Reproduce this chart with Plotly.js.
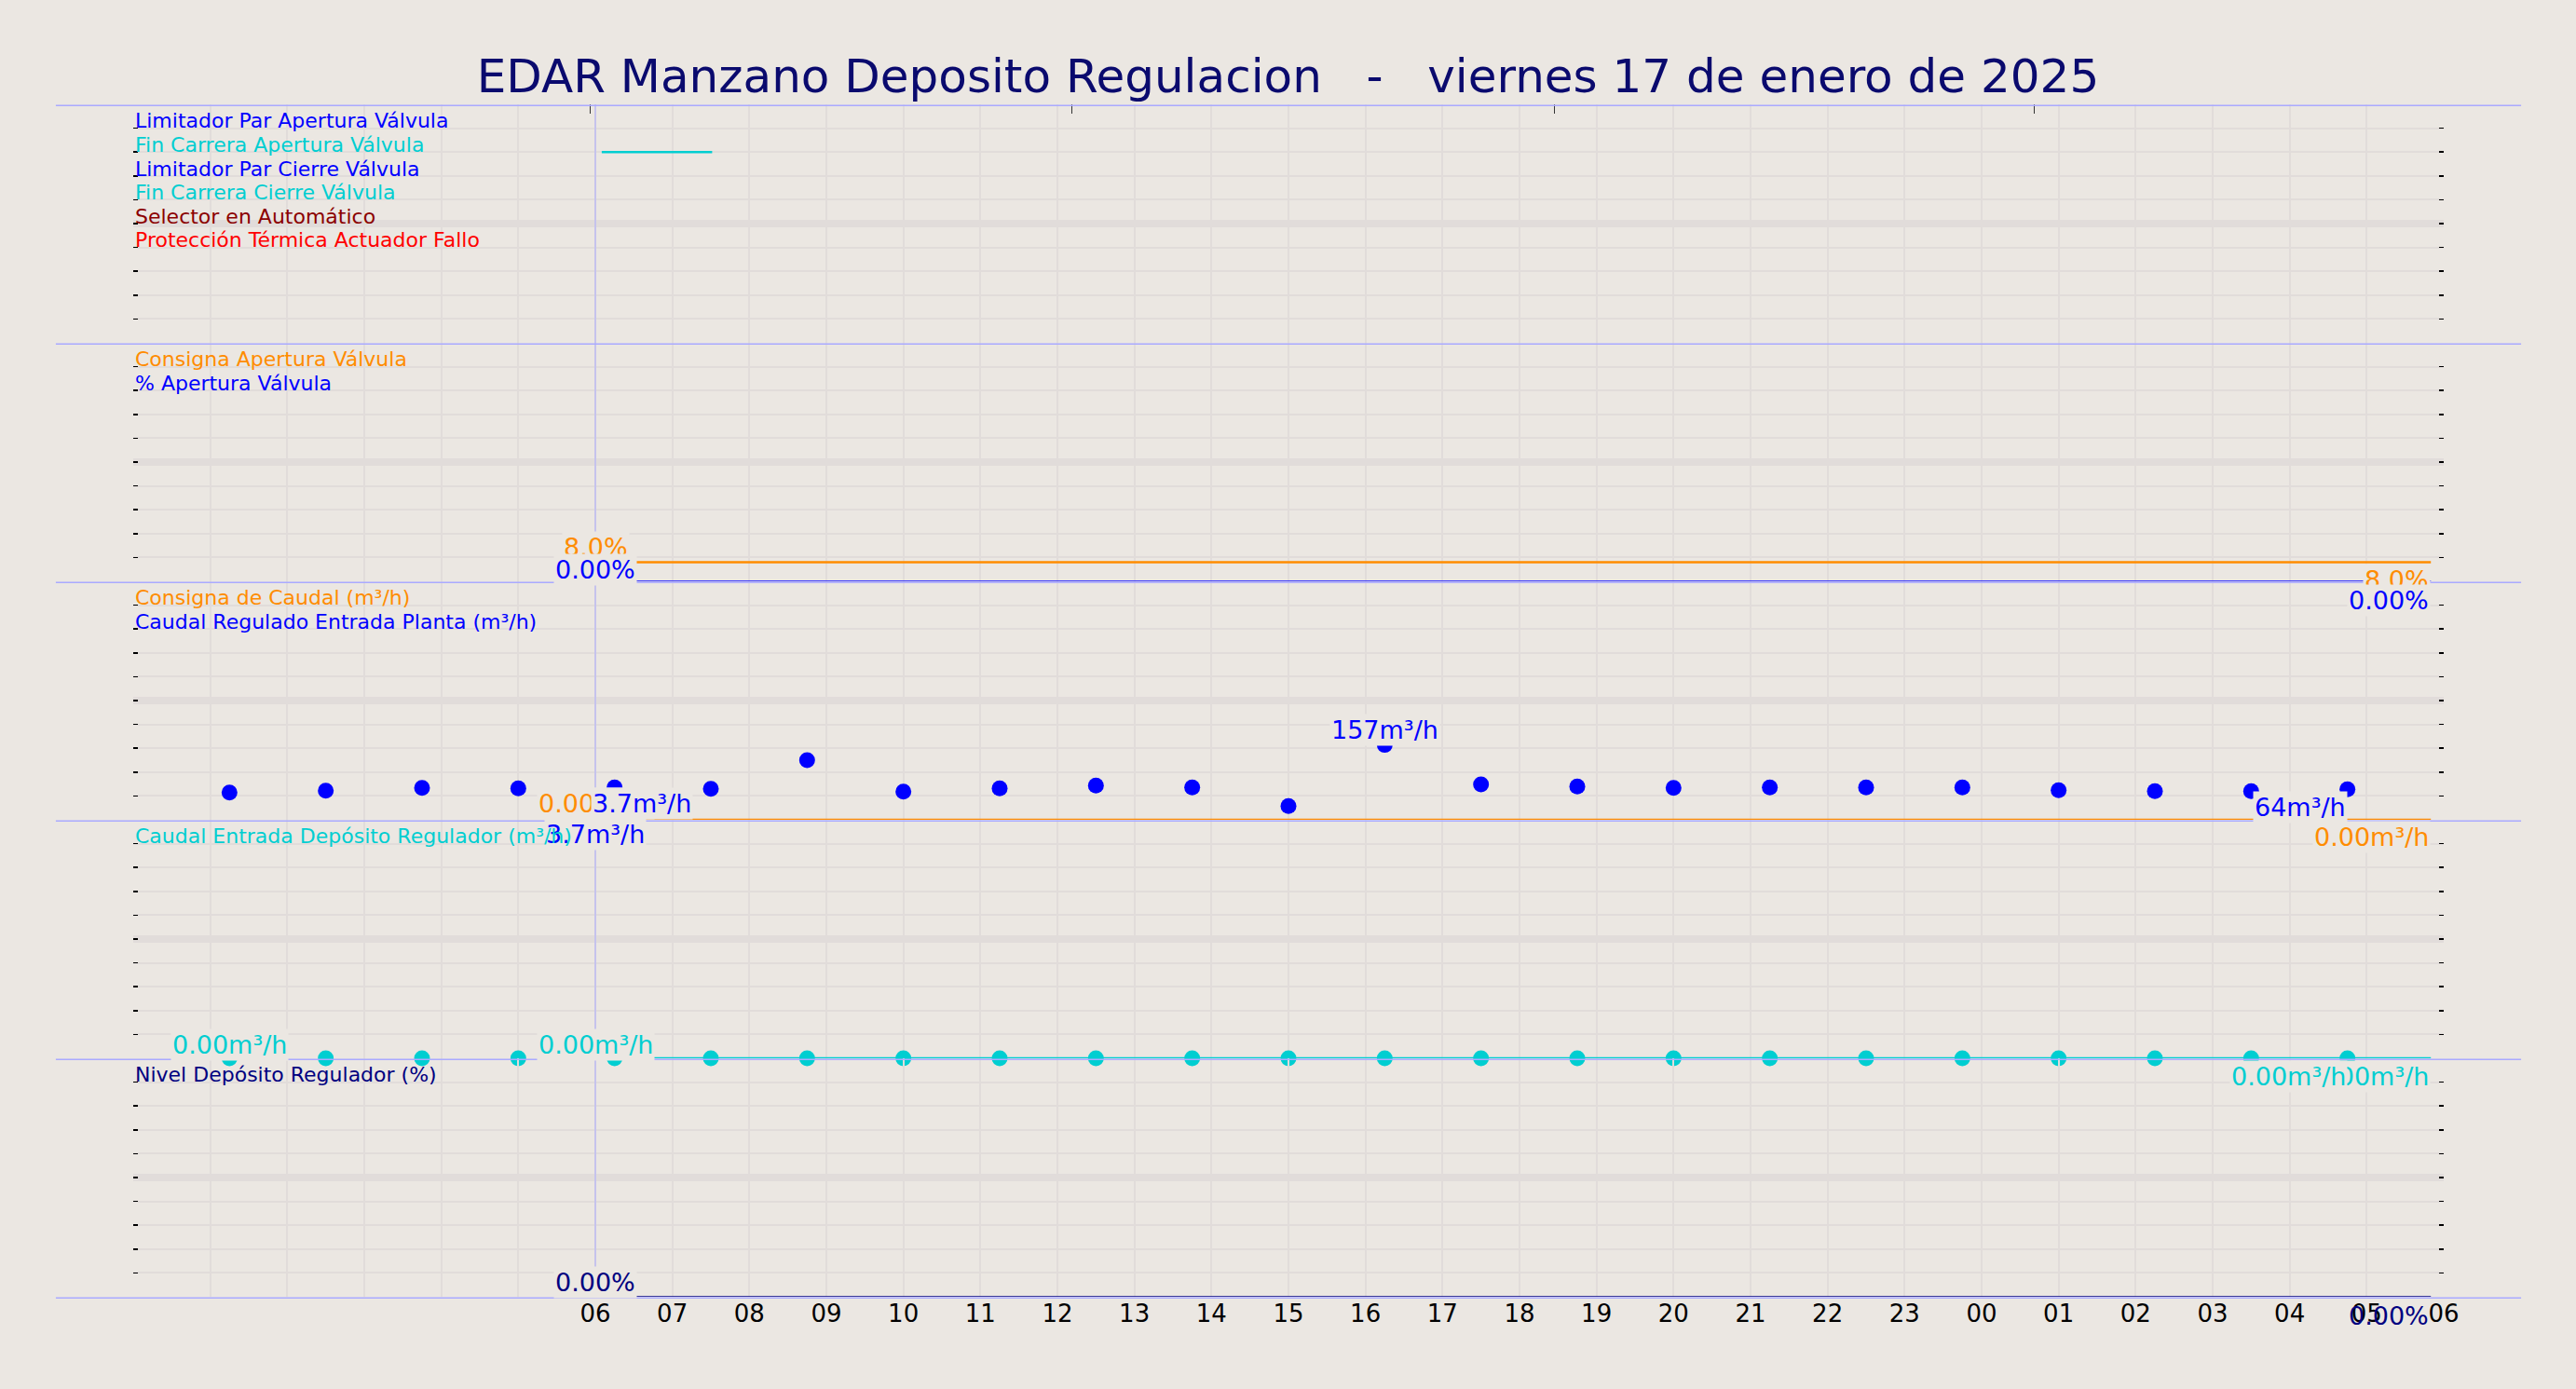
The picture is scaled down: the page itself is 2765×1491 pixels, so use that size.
<!DOCTYPE html>
<html>
<head>
<meta charset="utf-8">
<script src="https://cdn.plot.ly/plotly-3.0.1.min.js"></script>
<style>
    html, body { margin: 0; padding: 0; background: #ebe7e2; }
</style>
</head>
<body>
<div id="chart"></div>
<script>
const BG = "#ebe7e2";
const GRID = "#e1dcda";
const BORDE = "#aaaaff";
const FONT = "DejaVu Sans";

// banda 1: señales digitales, intervalos en ON
const senales = ["Limitador Par Apertura Válvula", "Fin Carrera Apertura Válvula",
    "Limitador Par Cierre Válvula", "Fin Carrera Cierre Válvula",
    "Selector en Automático", "Protección Térmica Actuador Fallo"];
const senalesColor = ["#0000ff", "#00ced1", "#0000ff", "#00ced1", "#8b0000", "#ff0000"];
const senalesOn = [[], [["2025-01-17 06:05", "2025-01-17 07:31"]], [], [], [], []];

// series continuas: inicio y fin del registro
const tiempoSerie = ["2025-01-17 06:00", "2025-01-18 05:50"];
const consignaApertura = [8.0, 8.0];
const aperturaValvula = [0, 0];
const consignaCaudal = [0, 0];
const caudalRegInicial = 3.7;
const caudalDeposito = [0, 0];
const nivelDeposito = [0, 0];

// muestras con marcador
const tiempoMuestras = ["2025-01-17 01:15", "2025-01-17 02:30", "2025-01-17 03:45", "2025-01-17 05:00",
    "2025-01-17 06:15", "2025-01-17 07:30", "2025-01-17 08:45", "2025-01-17 10:00",
    "2025-01-17 11:15", "2025-01-17 12:30", "2025-01-17 13:45", "2025-01-17 15:00",
    "2025-01-17 16:15", "2025-01-17 17:30", "2025-01-17 18:45", "2025-01-17 20:00",
    "2025-01-17 21:15", "2025-01-17 22:30", "2025-01-17 23:45", "2025-01-18 01:00",
    "2025-01-18 02:15", "2025-01-18 03:30", "2025-01-18 04:45"];
const caudalRegulado = [57, 61, 67, 66, 68, 65, 125, 59, 66, 72, 68, 29,
    157, 74, 70, 67, 68, 68, 68, 62, 60, 60, 64];
const caudalDepositoMuestras = [0, 0, 0, 0, 0, 0, 0, 0, 0, 0, 0, 0,
    0, 0, 0, 0, 0, 0, 0, 0, 0, 0, 0];

// eje x
const horasTexto = ["", "", "", "", "", "", "06", "07", "08", "09", "10", "11", "12", "13",
    "14", "15", "16", "17", "18", "19", "20", "21", "22", "23", "00", "01", "02", "03",
    "04", "05", "06"];
const ticksArriba = ["2025-01-17 05:56", "2025-01-17 12:11", "2025-01-17 18:27", "2025-01-18 00:41"];
const inicioEje = "2025-01-17 00:00";
const finEje = "2025-01-18 06:00";

function fmt(v) {
    if (v === 0) {
        return "0.00";
    }
    if (Math.abs(v) < 10) {
        return v.toFixed(1);
    }
    return v.toFixed(0);
}

function last(a) {
    return a[a.length - 1];
}

let traces = [];

// banda 1
senales.forEach(function (name, i) {
    for (let iv of senalesOn[i]) {
        traces.push({
            x: iv, y: [9 - i, 9 - i], yaxis: "y", mode: "lines",
            line: { color: senalesColor[i], width: 2.5 }, cliponaxis: false
        });
    }
});
traces.push({ x: [], y: [], xaxis: "x2", yaxis: "y" });

// banda 2
traces.push({ x: tiempoSerie, y: consignaApertura, yaxis: "y2", mode: "lines",
    line: { color: "#ff8c00", width: 2.5 }, cliponaxis: false });
traces.push({ x: tiempoSerie, y: aperturaValvula, yaxis: "y2", mode: "lines",
    line: { color: "#0000ff", width: 1.5 }, cliponaxis: false });

// banda 3
traces.push({ x: tiempoSerie, y: consignaCaudal, yaxis: "y3", mode: "lines",
    line: { color: "#ff8c00", width: 2.5 }, cliponaxis: false });
traces.push({ x: tiempoMuestras, y: caudalRegulado, yaxis: "y3", mode: "markers",
    marker: { color: "#0000ff", size: 17 }, cliponaxis: false });

// banda 4
traces.push({ x: tiempoSerie, y: caudalDeposito, yaxis: "y4", mode: "lines",
    line: { color: "#00ced1", width: 2.5 }, cliponaxis: false });
traces.push({ x: tiempoMuestras, y: caudalDepositoMuestras, yaxis: "y4", mode: "markers",
    marker: { color: "#00ced1", size: 17 }, cliponaxis: false });

// banda 5
traces.push({ x: tiempoSerie, y: nivelDeposito, yaxis: "y5", mode: "lines",
    line: { color: "#000080", width: 1.5 }, cliponaxis: false });

function valor(text, color, x, y, yref, xanchor, yshift, xshift, bg) {
    return {
        text: text, x: x, y: y, xref: "x", yref: yref, showarrow: false,
        xanchor: xanchor, yanchor: "middle", yshift: yshift, xshift: xshift || 0,
        font: { family: FONT, size: 27, color: color },
        bgcolor: bg === false ? "rgba(0,0,0,0)" : BG, borderpad: 1
    };
}

function nombre(text, color, yref, i) {
    return {
        text: text, x: 0, y: 1 - 0.07 - 0.1 * i, xref: "paper", yref: yref + " domain",
        xanchor: "left", yanchor: "middle", showarrow: false,
        font: { family: FONT, size: 22, color: color }
    };
}

const M3 = "m³/h";
const iMaxReg = caudalRegulado.indexOf(Math.max(...caudalRegulado));
const iMaxDep = caudalDepositoMuestras.indexOf(Math.max(...caudalDepositoMuestras));
const t0 = tiempoSerie[0];
const t1 = last(tiempoSerie);

let annotations = [
    // banda 2
    valor(fmt(consignaApertura[0]) + "%", "#ff8c00", t0, consignaApertura[0], "y2", "center", 16),
    valor(fmt(aperturaValvula[0]) + "%", "#0000ff", t0, aperturaValvula[0], "y2", "center", 13),
    valor(fmt(last(consignaApertura)) + "%", "#ff8c00", t1, last(consignaApertura), "y2", "right", -19),
    valor(fmt(last(aperturaValvula)) + "%", "#0000ff", t1, last(aperturaValvula), "y2", "right", -20),
    // banda 3
    valor(fmt(consignaCaudal[0]) + M3, "#ff8c00", t0, consignaCaudal[0], "y3", "center", 18),
    valor(fmt(caudalRegInicial) + M3, "#0000ff", t0, caudalRegInicial, "y3", "left", 16, -5),
    valor(fmt(caudalRegInicial) + M3, "#0000ff", t0, caudalRegInicial, "y3", "center", -17),
    valor(fmt(caudalRegulado[iMaxReg]) + M3, "#0000ff", tiempoMuestras[iMaxReg], caudalRegulado[iMaxReg], "y3", "center", 16),
    valor(fmt(last(consignaCaudal)) + M3, "#ff8c00", t1, last(consignaCaudal), "y3", "right", -18),
    valor(fmt(last(caudalRegulado)) + M3, "#0000ff", last(tiempoMuestras), last(caudalRegulado), "y3", "right", -19),
    // banda 4
    valor(fmt(caudalDepositoMuestras[iMaxDep]) + M3, "#00ced1", tiempoMuestras[iMaxDep], caudalDepositoMuestras[iMaxDep], "y4", "center", 15),
    valor(fmt(caudalDeposito[0]) + M3, "#00ced1", t0, caudalDeposito[0], "y4", "center", 15),
    valor(fmt(last(caudalDeposito)) + M3, "#00ced1", t1, last(caudalDeposito), "y4", "right", -19),
    valor(fmt(last(caudalDepositoMuestras)) + M3, "#00ced1", last(tiempoMuestras), last(caudalDepositoMuestras), "y4", "right", -19),
    // banda 5
    valor(fmt(nivelDeposito[0]) + "%", "#000080", t0, nivelDeposito[0], "y5", "center", 16),
    valor(fmt(last(nivelDeposito)) + "%", "#000080", t1, last(nivelDeposito), "y5", "right", -20, 0, false)
];

senales.forEach(function (s, i) {
    annotations.push(nombre(s, senalesColor[i], "y", i));
});
annotations.push(nombre("Consigna Apertura Válvula", "#ff8c00", "y2", 0));
annotations.push(nombre("% Apertura Válvula", "#0000ff", "y2", 1));
annotations.push(nombre("Consigna de Caudal (m³/h)", "#ff8c00", "y3", 0));
annotations.push(nombre("Caudal Regulado Entrada Planta (m³/h)", "#0000ff", "y3", 1));
annotations.push(nombre("Caudal Entrada Depósito Regulador (m³/h)", "#00ced1", "y4", 0));
annotations.push(nombre("Nivel Depósito Regulador (%)", "#000080", "y5", 0));

// lineas de separacion entre bandas, linea de las 06 y linea media de cada banda
let shapes = [];
for (let yref of ["y", "y2", "y3", "y4", "y5"]) {
    shapes.push({
        type: "line", xref: "paper", yref: yref + " domain", x0: 0, x1: 1, y0: 0.5, y1: 0.5,
        line: { color: GRID, width: 8 }, layer: "below"
    });
}
const bajada = 1.2 / 1280;
for (let b of [0, 0.2, 0.4, 0.6, 0.8, 1]) {
    shapes.push({
        type: "line", xref: "paper", yref: "paper", x0: -0.0335, x1: 1.0335,
        y0: b - bajada, y1: b - bajada,
        line: { color: BORDE, width: 1.5 }, layer: "above"
    });
}
shapes.push({
    type: "line", xref: "x", yref: "paper", x0: t0, x1: t0, y0: 0, y1: 1,
    line: { color: BORDE, width: 1 }, layer: "above"
});

const tickVals = horasTexto.map(function (h, i) {
    return new Date(Date.UTC(2025, 0, 17, i)).toISOString().slice(0, 16).replace("T", " ");
});

function ejeY(domain, max) {
    return {
        domain: domain, range: [0, max], dtick: max / 10, tick0: 0, anchor: "x",
        ticks: "inside", ticklen: 5, tickwidth: 1.5, tickcolor: "#000", mirror: "ticks",
        showticklabels: false, showgrid: true, gridcolor: GRID, gridwidth: 2,
        zeroline: false, showline: false, fixedrange: true
    };
}

const layout = {
    width: 2765,
    height: 1491,
    autosize: false,
    paper_bgcolor: BG,
    plot_bgcolor: BG,
    showlegend: false,
    margin: { l: 143, r: 142, t: 112, b: 99, pad: 0 },
    font: { family: FONT, color: "#000" },
    title: {
        text: "EDAR Manzano Deposito Regulacion\u00a0\u00a0\u00a0-\u00a0\u00a0\u00a0viernes 17 de enero de 2025",
        font: { family: FONT, size: 50, color: "#0a0a6e" },
        x: 0.5, xanchor: "center", y: 1 - 81 / 1491, yanchor: "middle"
    },
    xaxis: {
        type: "date", range: [inicioEje, finEje], anchor: "y5",
        tickmode: "array", tickvals: tickVals, ticktext: horasTexto, ticks: "",
        tickfont: { family: FONT, size: 26, color: "#000" },
        showgrid: true, gridcolor: GRID, gridwidth: 2, zeroline: false, showline: false
    },
    xaxis2: {
        type: "date", range: [inicioEje, finEje], overlaying: "x", anchor: "y", side: "top",
        tickmode: "array", tickvals: ticksArriba, ticks: "inside", ticklen: 10, tickwidth: 1,
        tickcolor: "#333", showticklabels: false, showgrid: false, zeroline: false
    },
    yaxis: ejeY([0.8, 1], 10),
    yaxis2: ejeY([0.6, 0.8], 100),
    yaxis3: ejeY([0.4, 0.6], 500),
    yaxis4: ejeY([0.2, 0.4], 500),
    yaxis5: ejeY([0, 0.2], 100),
    annotations: annotations,
    shapes: shapes
};

Plotly.newPlot("chart", traces, layout, { displayModeBar: false, staticPlot: true });
</script>
</body>
</html>
